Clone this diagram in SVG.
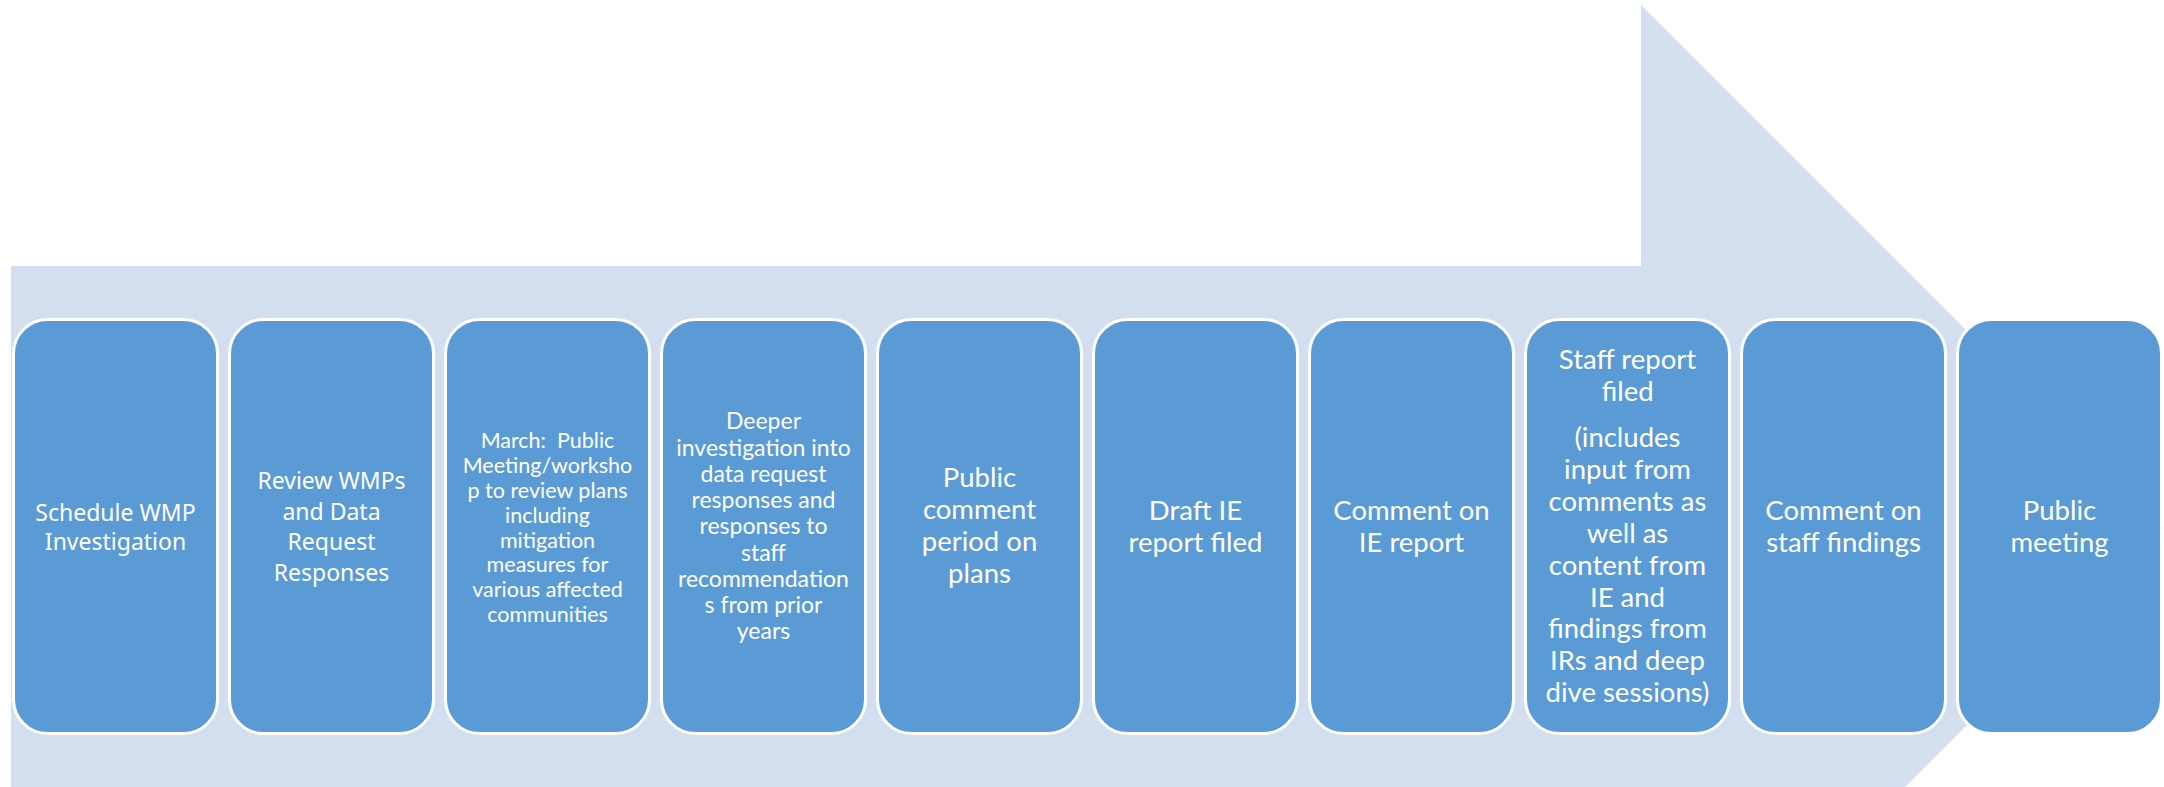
<svg xmlns="http://www.w3.org/2000/svg" width="2164" height="787" viewBox="0 0 2164 787">
<style>
.band{fill:#D3DEEF}
.box{fill:#5B9BD5;stroke:#FFFFFF;stroke-width:3}
.t{fill:#FFFFFF;text-anchor:middle}
.ap{font-family:"Noto Sans","Liberation Sans",sans-serif;font-size:23px}
.ca{font-family:Lato,"Carlito","Liberation Sans",sans-serif}
.s3{font-size:21.5px}
.s4{font-size:23px}
.s5{font-size:27.5px}
</style>
<rect width="2164" height="787" fill="#FFFFFF"/>
<polygon class="band" points="11,266 1641,266 1641,5 2164,528 1641,1051 1641,790 11,790"/>
<g id="connectors"></g>
<g id="n1">
<rect class="box" x="13.5" y="319.5" width="204" height="414" rx="34"/>
<text class="t ap" x="115.5"><tspan x="115.5" y="520.5">Schedule WMP</tspan><tspan x="115.5" y="550">Investigation</tspan></text>
</g>
<g id="n2">
<rect class="box" x="229.5" y="319.5" width="204" height="414" rx="34"/>
<text class="t ap"><tspan x="331.5" y="489">Review WMPs</tspan><tspan x="331.5" y="519.5">and Data</tspan><tspan x="331.5" y="550">Request</tspan><tspan x="331.5" y="580.5">Responses</tspan></text>
</g>
<g id="n3">
<rect class="box" x="445.5" y="319.5" width="204" height="414" rx="34"/>
<text class="t ca s3"><tspan x="547.5" y="448" xml:space="preserve">March:  Public</tspan><tspan x="547.5" y="473">Meeting/worksho</tspan><tspan x="547.5" y="497.5">p to review plans</tspan><tspan x="547.5" y="522.5">including</tspan><tspan x="547.5" y="547.5">mitigation</tspan><tspan x="547.5" y="572">measures for</tspan><tspan x="547.5" y="597">various affected</tspan><tspan x="547.5" y="622">communities</tspan></text>
</g>
<g id="n4">
<rect class="box" x="661.5" y="319.5" width="204" height="414" rx="34"/>
<text class="t ca s4"><tspan x="763.5" y="429">Deeper</tspan><tspan x="763.5" y="455.5">investigation into</tspan><tspan x="763.5" y="481.5">data request</tspan><tspan x="763.5" y="508">responses and</tspan><tspan x="763.5" y="534">responses to</tspan><tspan x="763.5" y="560.5">staff</tspan><tspan x="763.5" y="586.5">recommendation</tspan><tspan x="763.5" y="613">s from prior</tspan><tspan x="763.5" y="639">years</tspan></text>
</g>
<g id="n5">
<rect class="box" x="877.5" y="319.5" width="204" height="414" rx="34"/>
<text class="t ca s5"><tspan x="979.5" y="487">Public</tspan><tspan x="979.5" y="519">comment</tspan><tspan x="979.5" y="551">period on</tspan><tspan x="979.5" y="583">plans</tspan></text>
</g>
<g id="n6">
<rect class="box" x="1093.5" y="319.5" width="204" height="414" rx="34"/>
<text class="t ca s5"><tspan x="1195.5" y="520">Draft IE</tspan><tspan x="1195.5" y="551.5">report filed</tspan></text>
</g>
<g id="n7">
<rect class="box" x="1309.5" y="319.5" width="204" height="414" rx="34"/>
<text class="t ca s5"><tspan x="1411.5" y="520">Comment on</tspan><tspan x="1411.5" y="551.5">IE report</tspan></text>
</g>
<g id="n8">
<rect class="box" x="1525.5" y="319.5" width="204" height="414" rx="34"/>
<text class="t ca s5"><tspan x="1627.5" y="369">Staff report</tspan><tspan x="1627.5" y="401">filed</tspan><tspan x="1627.5" y="447">(includes</tspan><tspan x="1627.5" y="479">input from</tspan><tspan x="1627.5" y="511">comments as</tspan><tspan x="1627.5" y="542.5">well as</tspan><tspan x="1627.5" y="574.5">content from</tspan><tspan x="1627.5" y="606.5">IE and</tspan><tspan x="1627.5" y="638">findings from</tspan><tspan x="1627.5" y="670">IRs and deep</tspan><tspan x="1627.5" y="702">dive sessions)</tspan></text>
</g>
<g id="n9">
<rect class="box" x="1741.5" y="319.5" width="204" height="414" rx="34"/>
<text class="t ca s5"><tspan x="1843.5" y="520">Comment on</tspan><tspan x="1843.5" y="552">staff findings</tspan></text>
</g>
<g id="n10">
<rect class="box" x="1957.5" y="319.5" width="204" height="414" rx="34"/>
<text class="t ca s5"><tspan x="2059.5" y="520">Public</tspan><tspan x="2059.5" y="552">meeting</tspan></text>
</g>
</svg>
